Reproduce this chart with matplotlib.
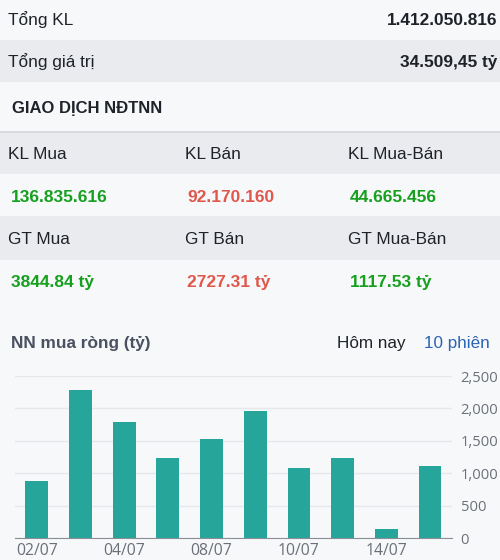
import matplotlib
matplotlib.use("Agg")
import matplotlib.pyplot as plt
from matplotlib.patches import Rectangle

# data
summary_labels = ["Tổng KL", "Tổng giá trị"]
summary_values = ["1.412.050.816", "34.509,45 tỷ"]
kl_headers = ["KL Mua", "KL Bán", "KL Mua-Bán"]
kl_values = ["136.835.616", "92.170.160", "44.665.456"]
gt_headers = ["GT Mua", "GT Bán", "GT Mua-Bán"]
gt_values = ["3844.84 tỷ", "2727.31 tỷ", "1117.53 tỷ"]
value_colors = ["#16a01e", "#e0574b", "#16a01e"]

dates = ["02/07", "03/07", "04/07", "07/07", "08/07",
         "09/07", "10/07", "11/07", "14/07", "15/07"]
net_buy = [890, 2280, 1785, 1240, 1525, 1960, 1080, 1230, 140, 1117.53]
yticks = [0, 500, 1000, 1500, 2000, 2500]

BG = "#f7f8fa"
BAND = "#e9ebee"
DARK = "#1f2329"
W, H = 500, 560

fig = plt.figure(figsize=(W / 100, H / 100), dpi=100, facecolor=BG)

# background axes in pixel coords
bg = fig.add_axes([0, 0, 1, 1])
bg.set_xlim(0, W)
bg.set_ylim(H, 0)
bg.axis("off")

# gray row bands
for y0, y1 in [(40, 82), (132, 174), (216, 260)]:
    bg.add_patch(Rectangle((0, y0), W, y1 - y0, color=BAND, lw=0))
bg.plot([0, W], [132, 132], color="#d3d6da", lw=1.2)

tf = "Liberation Sans"
# summary rows
for lab, val, yb in zip(summary_labels, summary_values, [25, 67]):
    bg.text(8, yb, lab, fontsize=12.4, family=tf, color=DARK, va="baseline")
    bg.text(497, yb, val, fontsize=12.4, family=tf, color=DARK,
            weight="bold", va="baseline", ha="right")
bg.text(12, 113, "GIAO DỊCH NĐTNN", fontsize=12, family=tf, color=DARK,
        weight="bold", va="baseline")

head_x = [8, 185, 348]
val_x = [11, 187, 350]
for i in range(3):
    bg.text(head_x[i], 159, kl_headers[i], fontsize=12.4, family=tf,
            color=DARK, va="baseline")
    bg.text(val_x[i], 202.5, kl_values[i], fontsize=12.5, family=tf,
            color=value_colors[i], weight="bold", va="baseline")
    bg.text(head_x[i], 244.5, gt_headers[i], fontsize=12.4, family=tf,
            color=DARK, va="baseline")
    bg.text(val_x[i], 287.5, gt_values[i], fontsize=12.5, family=tf,
            color=value_colors[i], weight="bold", va="baseline")

# chart header
bg.text(11, 348, "NN mua ròng (tỷ)", fontsize=12.4, family=tf, color="#4a5160",
        weight="bold", va="baseline")
bg.text(406, 348, "Hôm nay", fontsize=12.3, family=tf, color=DARK,
        va="baseline", ha="right")
bg.text(490, 348, "10 phiên", fontsize=12.3, family=tf, color="#2c64b4",
        va="baseline", ha="right")

# bar chart
ax = fig.add_axes([15 / W, (H - 538.3) / H, (451.7 - 15) / W, (538.3 - 376) / H])
ax.set_facecolor("none")
x = range(len(dates))
ax.bar(x, net_buy, width=0.52, color="#26a69a", zorder=3)
ax.set_xlim(-0.5, len(dates) - 0.5)
ax.set_ylim(0, 2500)
ax.set_yticks(yticks)
ax.set_yticklabels([f"{v:,}" for v in yticks])
ax.yaxis.tick_right()
ax.set_xticks(list(x)[::2])
ax.set_xticklabels(dates[::2])
ax.grid(axis="y", color="#e6e8eb", lw=1, zorder=0)
for s in ["top", "left", "right"]:
    ax.spines[s].set_visible(False)
ax.spines["bottom"].set_color("#8a8f96")
ax.spines["bottom"].set_zorder(4)
ax.tick_params(axis="both", length=0, labelsize=11.3, colors="#6b7078")
ax.tick_params(axis="y", labelsize=10.6, pad=6.5)
ax.tick_params(axis="x", pad=3.5)
for t in ax.get_xticklabels() + ax.get_yticklabels():
    t.set_family("Open Sans")

fig.savefig("out.png", dpi=100, facecolor=BG)
